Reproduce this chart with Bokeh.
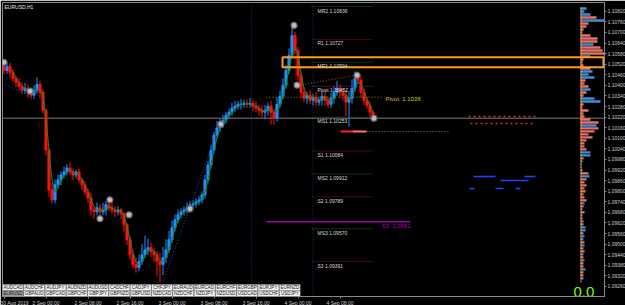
import numpy as np
from bokeh.plotting import figure
from bokeh.models import (Range1d, FixedTicker, SingleIntervalTicker,
                          NumeralTickFormatter, Label)
from bokeh.core.properties import value
from bokeh.embed import file_html
from bokeh.resources import INLINE

# ---------------- data ----------------
closes = [
    1.10485, 1.10508, 1.10474, 1.10440, 1.10418, 1.10395, 1.10372, 1.10384, 1.10361, 1.10344,
    1.10372, 1.10406, 1.10361, 1.10259, 1.10033, 1.09807, 1.09751, 1.09836, 1.09864, 1.09892,
    1.09909, 1.09932, 1.09909, 1.09892, 1.09909, 1.09864, 1.09836, 1.09796, 1.09762, 1.09694,
    1.09683, 1.09706, 1.09683, 1.09694, 1.09723, 1.09706, 1.09694, 1.09683, 1.09694, 1.09672,
    1.09610, 1.09525, 1.09440, 1.09384, 1.09367, 1.09401, 1.09440, 1.09468, 1.09480, 1.09457,
    1.09440, 1.09401, 1.09384, 1.09423, 1.09468, 1.09525, 1.09593, 1.09638, 1.09666, 1.09683,
    1.09694, 1.09706, 1.09723, 1.09728, 1.09740, 1.09751, 1.09779, 1.09864, 1.09949, 1.10033,
    1.10118, 1.10158, 1.10180, 1.10203, 1.10231, 1.10248, 1.10271, 1.10282, 1.10293, 1.10293,
    1.10299, 1.10293, 1.10299, 1.10282, 1.10271, 1.10259, 1.10248, 1.10259, 1.10282, 1.10248,
    1.10214, 1.10293, 1.10339, 1.10401, 1.10485, 1.10570, 1.10683, 1.10598, 1.10457, 1.10361,
    1.10327, 1.10344, 1.10316, 1.10333, 1.10305, 1.10316, 1.10339, 1.10316, 1.10293, 1.10327,
    1.10361, 1.10384, 1.10361, 1.10344, 1.10305, 1.10327, 1.10384, 1.10440, 1.10429, 1.10361,
    1.10316, 1.10288, 1.10248, 1.10214,
]
wick_up = [3, 2, 2, 2, 1, 2, 2, 3, 2, 2, 3, 4, 2,
           2, 1, 1, 4, 3, 3, 2, 3, 2, 3, 2, 1, 2, 1, 2, 2,
           3, 2, 3, 2, 4, 2, 2, 3, 2, 2, 1, 1, 1, 2, 2, 4,
           4, 6, 8, 5, 3, 2, 2, 5, 6, 6, 5, 4, 3, 3, 2, 2,
           3, 2, 2, 2, 2, 2, 3, 2, 3, 2, 4, 3, 3, 2, 2, 3,
           3, 2, 3, 2, 2, 3, 2, 3, 2, 3, 3, 2, 3, 2, 4, 3,
           4, 3, 4, 6, 2, 2, 2, 3, 2, 3, 2, 3, 2, 3, 3, 2,
           3, 3, 4, 2, 2, 3, 4, 5, 4, 4, 2, 2, 2, 2, 1]
wick_dn = [2, 2, 3, 2, 3, 2, 2, 2, 3, 2, 2, 2, 3,
           2, 3, 4, 2, 2, 2, 3, 2, 2, 2, 3, 2, 2, 3, 2, 3,
           3, 4, 2, 3, 2, 3, 2, 2, 3, 2, 3, 4, 3, 3, 2, 3,
           2, 2, 2, 3, 3, 4, 8, 10, 6, 3, 2, 2, 2, 2, 2, 2,
           2, 2, 2, 2, 2, 2, 2, 2, 2, 2, 2, 2, 2, 2, 2, 2,
           2, 2, 3, 2, 2, 2, 3, 2, 3, 3, 4, 3, 7, 4, 2, 2,
           2, 2, 2, 2, 2, 3, 3, 2, 3, 2, 3, 2, 2, 3, 3, 2,
           2, 3, 2, 3, 3, 8, 14, 3, 2, 2, 3, 3, 2, 3, 1]

time_ticks = [0, 14, 28, 42, 56, 70, 84, 98, 112]
time_labels = ["30 Aug 2019", "2 Sep 00:00", "2 Sep 08:00", "2 Sep 16:00",
               "3 Sep 00:00", "3 Sep 08:00", "3 Sep 16:00", "4 Sep 00:00", "4 Sep 08:00"]

level_text = ["MR2 1.10836", "R1 1.10727", "MR1 1.10594", "Pivot 1.10452", "MS1 1.10253",
              "S1 1.10084", "MS2 1.09912", "S2 1.09789", "MS3 1.09570", "S3 1.09391"]
level_price = [1.10847, 1.10661, 1.10531, 1.10395, 1.10220,
               1.10028, 1.09898, 1.09768, 1.09587, 1.09401]
level_color = ["#166a16", "#7a1616", "#166a16", "#8a208a", "#166a16",
               "#7a1616", "#166a16", "#7a1616", "#166a16", "#7a1616"]

day_separators = [82.5, 103.0]

mark_bar = [0, 8.7, 32, 35.3, 41.7, 62, 72.3, 96.7, 97.7, 117.7, 123.3]
mark_price = [1.10531, 1.10367, 1.09644, 1.09751, 1.09666, 1.09700,
              1.10180, 1.10740, 1.10401, 1.10457, 1.10214]

zone_top, zone_bottom = 1.10559, 1.10503
weekly_s3_price, weekly_s3_text = 1.09627, "S3: 1.0961"
weekly_pivot_price, weekly_pivot_text = 1.10333, "Pivot: 1.1038"

row1_pairs = ["AUDCAD", "AUDCHF", "AUDJPY", "AUDNZD", "AUDUSD", "CADCHF", "CADJPY",
              "CHFJPY", "EURAUD", "EURCAD", "EURCHF", "EURGBP", "EURJPY", "EURNZD"]
row2_pairs = ["EURUSD", "GBPAUD", "GBPCAD", "GBPCHF", "GBPJPY", "GBPNZD", "GBPUSD",
              "NZDCAD", "NZDCHF", "NZDJPY", "NZDUSD", "USDCAD", "USDCHF", "USDJPY"]

profile_len = [6, 4, 10, 16, 26, 8, 6, 3, 2, 10, 17, 17, 13, 20, 22, 24, 10, 3, 2, 3,
               10, 12, 8, 14, 5, 4, 8, 10, 6, 3, 14, 20, 3, 2, 8, 3, 4, 10, 18, 16,
               18, 14, 8, 12, 6, 4, 4, 6, 10, 10, 3, 2, 1, 1, 2, 8, 9, 6, 4, 6,
               4, 5, 3, 4, 6, 4, 3, 2, 4, 2, 2, 3, 3, 5, 5, 3, 4, 3, 4, 4,
               3, 4, 3, 3, 4, 3, 3, 5, 3, 3, 3, 2]
profile_kind = "bbbrbrrrbrrrbrrrbrrrrbbbrrrbrrbbrrrrrrrbrrrrrrrrbbrbbbrrbrrrrrrrrbrbrbrbrbbrbbrbrrbrbrrbrrb"
profile_top, profile_step = 1.10836, 0.00017

last_price = closes[-1]

# ---------------- frame geometry ----------------
FW, FH = 602, 294
X0 = -0.5
X1 = X0 + FW / 3.0
Y_TOP, Y_BOT = 1.10870, 1.09203


def fx(px):
    return X0 + (px - 2) * (X1 - X0) / FW


def fy(py):
    return Y_TOP - (py - 2) * (Y_TOP - Y_BOT) / FH


FONT = value("Liberation Sans")

p = figure(frame_width=FW, frame_height=FH, output_backend="svg", toolbar_location=None,
           x_range=Range1d(X0, X1), y_range=Range1d(Y_BOT, Y_TOP),
           y_axis_location="right", min_border_left=2, min_border_top=2,
           min_border_right=0, min_border_bottom=0,
           background_fill_color="#000000", border_fill_color="#000000",
           outline_line_color="#8a8a8a")
p.xgrid.visible = False
p.ygrid.visible = False

for ax in (p.xaxis[0], p.yaxis[0]):
    ax.axis_line_color = "#8a8a8a"
    ax.major_tick_line_color = "#8a8a8a"
    ax.minor_tick_line_color = None
    ax.major_tick_in = 0
    ax.major_tick_out = 2
    ax.major_label_standoff = 1
    ax.major_label_text_color = "#c8c8c8"
    ax.major_label_text_font_size = "5px"
    ax.major_label_text_font = "Liberation Sans"

p.xaxis.ticker = FixedTicker(ticks=time_ticks)
p.xaxis.major_label_overrides = {t: l for t, l in zip(time_ticks, time_labels)}
p.yaxis.ticker = SingleIntervalTicker(interval=0.0006, num_minor_ticks=0)
p.yaxis.formatter = NumeralTickFormatter(format="0.00000")

# day separators
for sx in day_separators:
    p.segment(x0=[sx], y0=[Y_BOT], x1=[sx], y1=[Y_TOP], line_color="#1c2c90",
              line_dash="1 2", line_width=1)

# current price line
p.segment(x0=[X0], y0=[last_price], x1=[X1], y1=[last_price], line_color="#7a7a7a", line_width=1)

# volume profile (behind the zone box)
m = len(profile_len)
prof_price = [profile_top - profile_step * j for j in range(m)]
prof_left = fx(580)
prof_right = [prof_left + v / 3.0 for v in profile_len]
prof_cols = ["#3f8fd8" if k == "b" else "#e8726a" for k in profile_kind[:m]]
p.hbar(y=prof_price, left=prof_left, right=prof_right, height=profile_step * 0.8,
       fill_color=prof_cols, line_color=None)
p.hbar(y=prof_price, left=prof_left, right=prof_left + 0.35, height=profile_step * 0.8,
       fill_color="#f0a030", line_color=None)

# candles
PIP = 0.0001
n = len(closes)
idx = np.arange(n)
opens = [closes[0] + 0.0002] + closes[:-1]
tops = [max(o, c) for o, c in zip(opens, closes)]
bots = [min(o, c) for o, c in zip(opens, closes)]
highs = [t + u * PIP for t, u in zip(tops, wick_up)]
lows = [b - d * PIP for b, d in zip(bots, wick_dn)]
cols = ["#1e90ff" if c >= o else "#ff1010" for o, c in zip(opens, closes)]

p.segment(x0=idx, y0=lows, x1=idx, y1=highs, line_color=cols, line_width=1)
p.vbar(x=idx, width=0.7, top=tops, bottom=bots, fill_color=cols, line_color=cols)

# moving average
ma = np.convolve(closes, np.ones(3) / 3, mode="valid")
p.line(idx[2:], ma, line_color="#1a8a1a", line_width=1)

# zigzag / trend dotted lines
p.segment(x0=[fx(292.7), fx(295.7), fx(163), fx(2), fx(2)],
          y0=[fy(25), fy(85), fy(280), fy(62), fy(83)],
          x1=[fx(295.7), fx(355), fx(219), fx(40), fx(30)],
          y1=[fy(85), fy(75), fy(124), fy(98), fy(96)],
          line_color=["#b02020", "#a05a20", "#2848c8", "#8a1a1a", "#2040a0"],
          line_dash="1 2", line_width=1)

# swing markers
p.scatter(mark_bar, mark_price, size=6, fill_color="#bdbdbd", line_color="#6a6a6a", line_width=1.2)

# zone box (drawn over the profile)
p.quad(left=[fx(282)], right=[fx(603)], top=[zone_top], bottom=[zone_bottom],
       fill_color=None, line_color="#ff9c1a", line_width=2)

# pivot levels
p.segment(x0=[fx(311)] * len(level_price), y0=level_price,
          x1=[fx(372)] * len(level_price), y1=level_price,
          line_color=level_color, line_dash="1 1", line_width=1)
p.text(x=[fx(317)] * len(level_price), y=level_price, text=level_text,
       text_color="#d8d8d8", text_font_size="5px", text_font=FONT,
       text_baseline="top", y_offset=1)

# weekly pivot (yellow) and S3 (magenta)
p.segment(x0=[fx(266)], y0=[weekly_pivot_price], x1=[fx(383)], y1=[weekly_pivot_price],
          line_color="#8a8a00", line_dash="1 2", line_width=1)
p.text(x=[fx(385)], y=[weekly_pivot_price], text=[weekly_pivot_text], text_color="#c8c800",
       text_font_size="6px", text_font=FONT, text_baseline="middle", y_offset=2)
p.segment(x0=[fx(266)], y0=[weekly_s3_price], x1=[fx(410)], y1=[weekly_s3_price],
          line_color="#a000a0", line_width=1.5)
p.text(x=[fx(410)], y=[weekly_s3_price], text=[weekly_s3_text], text_color="#b000b0",
       text_font_size="6px", text_font=FONT, text_baseline="top", text_align="right", y_offset=1)

# MS1 area marks
y131 = fy(131)
p.segment(x0=[fx(340)], y0=[y131], x1=[fx(352)], y1=[y131], line_color="#ff2020", line_width=2)
p.segment(x0=[fx(352)], y0=[y131], x1=[fx(366)], y1=[y131], line_color="#ff7a50", line_width=2)
p.segment(x0=[fx(366)], y0=[y131], x1=[fx(450)], y1=[y131], line_color="#7a7a7a",
          line_dash="1 2", line_width=1)
p.segment(x0=[fx(468), fx(470)], y0=[fy(116), fy(123)], x1=[fx(535), fx(535)],
          y1=[fy(116), fy(123)], line_color="#d03030", line_dash="2 3", line_width=1.5)
p.segment(x0=[fx(473), fx(524), fx(500), fx(469), fx(495), fx(515)],
          y0=[fy(176), fy(176), fy(180), fy(188), fy(188), fy(188)],
          x1=[fx(495), fx(535), fx(528), fx(474), fx(503), fx(520)],
          y1=[fy(176), fy(176), fy(180), fy(188), fy(188), fy(188)],
          line_color="#2040ff", line_width=1.5)

# title
p.text(x=[fx(4)], y=[fy(3)], text=["EURUSD,H1"], text_color="#e8e8e8",
       text_font_size="5px", text_font=FONT, text_baseline="top")

# buttons
bw = 21.3
for r, (pairs, top_px) in enumerate(((row1_pairs, 284), (row2_pairs, 290))):
    lefts = [fx(2 + bw * k) for k in range(len(pairs))]
    rights = [fx(2 + bw * (k + 1) - 0.5) for k in range(len(pairs))]
    fills = ["#9c9c9c" if (r == 1 and k == 0) else "#f2f2f2" for k in range(len(pairs))]
    p.quad(left=lefts, right=rights, top=fy(top_px), bottom=fy(top_px + 6),
           fill_color=fills, line_color="#8a8a8a", line_width=0.5)
    p.text(x=[(a + b) / 2 for a, b in zip(lefts, rights)], y=[fy(top_px + 3)] * len(pairs),
           text=pairs, text_color="#101010", text_font_size="4.5px", text_font=FONT,
           text_align="center", text_baseline="middle")

# spread readout
p.text(x=[fx(573)], y=[fy(296)], text=["0.0"], text_color="#7cfc00",
       text_font_size="15px", text_font=FONT, text_baseline="bottom")

# price tag on axis
p.add_layout(Label(x=X1, y=last_price, x_offset=2, text=f"{last_price:.5f}",
                   text_font_size="5px", text_font="Liberation Sans", text_color="#000000",
                   text_baseline="middle", background_fill_color="#a8a8a8"))

open("out.html", "w").write(file_html(p, INLINE, "EURUSD,H1"))
